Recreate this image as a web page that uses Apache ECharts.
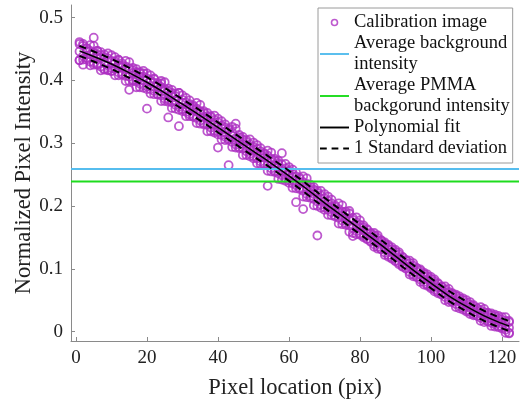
<!DOCTYPE html>
<html><head><meta charset="utf-8">
<script src="https://cdn.jsdelivr.net/npm/echarts@6/dist/echarts.min.js"></script>
<style>html,body{margin:0;padding:0;background:#fff}#c{width:528px;height:405px}</style>
</head><body><div id="c"></div>
<script>
// Pixel locations 1..122, five samples of normalized intensity per pixel
const calibA = [0.458,0.439,0.451,0.430,0.444,0.425,0.440,0.418,0.435,0.420,0.430,0.432,0.410,0.422,0.385,0.416,0.398,0.411,0.392,0.355,
0.400,0.383,0.393,0.376,0.386,0.369,0.380,0.361,0.380,0.369,0.350,0.362,0.343,0.355,0.336,0.348,0.329,0.341,0.320,0.293,
0.328,0.310,0.265,0.317,0.331,0.309,0.291,0.302,0.283,0.294,0.276,0.287,0.268,0.232,0.275,0.256,0.268,0.284,0.260,0.241,
0.251,0.233,0.243,0.195,0.235,0.216,0.226,0.153,0.217,0.198,0.208,0.190,0.199,0.181,0.191,0.173,0.192,0.152,0.174,0.156,
0.166,0.148,0.157,0.139,0.149,0.131,0.140,0.122,0.131,0.113,0.123,0.104,0.114,0.095,0.105,0.087,0.097,0.079,0.088,0.071,
0.080,0.063,0.072,0.055,0.063,0.048,0.057,0.041,0.050,0.034,0.043,0.028,0.037,0.022,0.031,0.017,0.026,0.012,0.021,0.007,
0.017,-0.002];
const calibB = [0.432,0.455,0.436,0.447,0.428,0.441,0.422,0.437,0.424,0.431,0.418,0.413,0.424,0.407,0.419,0.401,0.413,0.395,0.406,0.403,
0.386,0.396,0.378,0.389,0.371,0.383,0.365,0.375,0.327,0.354,0.365,0.346,0.358,0.340,0.351,0.332,0.343,0.325,0.337,0.333,
0.313,0.325,0.321,0.302,0.298,0.294,0.306,0.287,0.298,0.279,0.291,0.271,0.283,0.280,0.260,0.272,0.252,0.249,0.244,0.256,
0.236,0.247,0.229,0.238,0.219,0.230,0.211,0.221,0.202,0.212,0.194,0.204,0.185,0.195,0.177,0.187,0.169,0.178,0.160,0.170,
0.152,0.162,0.143,0.153,0.135,0.145,0.126,0.136,0.117,0.127,0.109,0.118,0.100,0.109,0.091,0.101,0.083,0.092,0.075,0.084,
0.067,0.076,0.059,0.067,0.051,0.060,0.044,0.053,0.038,0.046,0.031,0.040,0.025,0.034,0.019,0.029,0.014,0.024,0.009,0.019,
0.003,0.015];
const calibC = [0.446,0.425,0.447,0.441,0.468,0.447,0.436,0.428,0.417,0.415,0.427,0.424,0.421,0.417,0.406,0.412,0.404,0.406,0.411,0.390,
0.398,0.402,0.390,0.395,0.383,0.341,0.376,0.368,0.358,0.364,0.357,0.355,0.354,0.350,0.347,0.342,0.338,0.334,0.330,0.318,
0.323,0.318,0.307,0.312,0.308,0.304,0.299,0.296,0.292,0.289,0.284,0.281,0.277,0.265,0.270,0.266,0.262,0.258,0.255,0.250,
0.246,0.206,0.238,0.224,0.229,0.225,0.220,0.207,0.211,0.207,0.203,0.199,0.194,0.190,0.186,0.181,0.178,0.165,0.169,0.165,
0.161,0.156,0.152,0.148,0.144,0.139,0.135,0.131,0.126,0.122,0.117,0.113,0.108,0.104,0.100,0.095,0.091,0.087,0.083,0.078,
0.074,0.070,0.066,0.062,0.058,0.055,0.051,0.048,0.044,0.041,0.038,0.035,0.032,0.029,0.026,0.023,0.021,0.019,0.016,0.013,
0.010,0.006];
const calibD = [0.461,0.433,0.451,0.424,0.455,0.426,0.445,0.417,0.443,0.415,0.437,0.408,0.427,0.399,0.429,0.399,0.418,0.389,0.415,0.386,
0.408,0.378,0.396,0.367,0.397,0.366,0.385,0.355,0.380,0.351,0.372,0.343,0.360,0.332,0.361,0.330,0.348,0.319,0.344,0.314,
0.335,0.305,0.323,0.294,0.323,0.292,0.310,0.281,0.306,0.276,0.297,0.267,0.284,0.256,0.285,0.254,0.272,0.242,0.267,0.237,
0.258,0.228,0.245,0.215,0.244,0.213,0.230,0.200,0.224,0.194,0.215,0.185,0.201,0.172,0.201,0.170,0.188,0.157,0.182,0.154,
0.169,0.147,0.156,0.135,0.153,0.131,0.142,0.119,0.134,0.112,0.126,0.103,0.113,0.091,0.109,0.087,0.099,0.075,0.091,0.069,
0.083,0.061,0.071,0.050,0.068,0.047,0.059,0.037,0.053,0.032,0.047,0.026,0.037,0.017,0.036,0.016,0.029,0.008,0.025,0.005,
0.023,-0.003];
const calibE = [0.432,0.458,0.433,0.456,0.425,0.447,0.416,0.441,0.416,0.440,0.408,0.433,0.409,0.431,0.399,0.420,0.389,0.413,0.388,0.411,
0.379,0.403,0.378,0.399,0.367,0.387,0.356,0.379,0.353,0.376,0.343,0.368,0.342,0.364,0.331,0.351,0.319,0.343,0.317,0.339,
0.306,0.330,0.305,0.326,0.293,0.313,0.281,0.305,0.279,0.301,0.268,0.292,0.266,0.288,0.255,0.275,0.243,0.266,0.240,0.262,
0.229,0.253,0.227,0.247,0.214,0.234,0.201,0.224,0.197,0.219,0.186,0.210,0.183,0.204,0.171,0.191,0.159,0.181,0.155,0.177,
0.150,0.163,0.144,0.157,0.132,0.145,0.122,0.138,0.116,0.130,0.107,0.119,0.101,0.113,0.088,0.101,0.079,0.094,0.073,0.087,
0.064,0.077,0.059,0.072,0.047,0.061,0.039,0.056,0.035,0.050,0.028,0.042,0.025,0.039,0.015,0.030,0.009,0.027,0.007,0.023,
-0.002,0.017];
const fitX = [1,5,10,15,20,25,30,35,40,45,50,55,60,65,70,75,80,85,90,95,100,105,110,115,120,122];
const fitY = [0.447,0.438,0.426,0.412,0.397,0.380,0.362,0.344,0.325,0.306,0.287,0.268,0.248,0.227,0.205,0.184,0.163,0.142,0.120,0.098,0.077,0.057,0.040,0.025,0.013,0.009];
const sdUpper = [0.455,0.446,0.434,0.420,0.405,0.388,0.370,0.352,0.333,0.314,0.295,0.276,0.256,0.235,0.213,0.192,0.171,0.150,0.128,0.106,0.085,0.065,0.048,0.033,0.021,0.017];
const sdLower = [0.439,0.430,0.418,0.404,0.389,0.372,0.354,0.336,0.317,0.298,0.279,0.260,0.240,0.219,0.197,0.176,0.155,0.134,0.112,0.090,0.069,0.049,0.032,0.017,0.005,0.001];
const bgIntensity = 0.259;
const pmmaIntensity = 0.239;
const xRange = [-1.4, 124.8];
const yRange = [-0.015, 0.52];
const xTicks = [0,20,40,60,80,100,120];
const yTicks = [0,0.1,0.2,0.3,0.4,0.5];
const legendNames = ['Calibration image','Average background\nintensity','Average PMMA\nbackgorund intensity','Polynomial fit','1 Standard deviation'];

const purple = '#AC30C2';
const blue = '#56BDEE';
const green = '#1EDC1E';
const scatterData = [];
[calibA, calibB, calibC, calibD, calibE].forEach(arr => arr.forEach((v, i) => scatterData.push([i + 1, v])));
const zip = (xs, ys) => xs.map((x, i) => [x, ys[i]]);
const font = '"Liberation Serif","Times New Roman",serif';
const solidIcon = 'path://M0,0h30v2h-30z';
const dashIcon = 'path://M0,0h7v2h-7z M12,0h7v2h-7z M24,0h6v2h-6z';

const chart = echarts.init(document.getElementById('c'), null, {renderer: 'canvas'});
chart.setOption({
  animation: false,
  backgroundColor: '#fff',
  textStyle: {fontFamily: font},
  grid: {left: 71, right: 9, top: 5, bottom: 63},
  legend: {
    orient: 'vertical', left: 318, top: 8,
    padding: [4, 3, 4, 2], itemGap: 0, itemWidth: 29, itemHeight: 6, symbolKeepAspect: true,
    backgroundColor: '#fff', borderColor: '#9a9a9a', borderWidth: 1,
    textStyle: {fontFamily: font, fontSize: 18.5, color: '#111', lineHeight: 21},
    data: [
      {name: legendNames[0], icon: 'circle', itemStyle: {color: 'transparent', borderColor: purple, borderWidth: 1.6}},
      {name: legendNames[1], icon: solidIcon, itemStyle: {color: blue, borderWidth: 0}, lineStyle: {width: 0}},
      {name: legendNames[2], icon: solidIcon, itemStyle: {color: green, borderWidth: 0}, lineStyle: {width: 0}},
      {name: legendNames[3], icon: solidIcon, itemStyle: {color: '#000', borderWidth: 0}, lineStyle: {width: 0}},
      {name: legendNames[4], icon: dashIcon, itemStyle: {color: '#000', borderWidth: 0}, lineStyle: {width: 0}}
    ]
  },
  xAxis: {
    type: 'value', min: xRange[0], max: xRange[1],
    name: 'Pixel location (pix)', nameLocation: 'middle', nameGap: 36,
    nameTextStyle: {fontFamily: font, fontSize: 22.5, color: '#222'},
    axisLine: {onZero: false, lineStyle: {color: '#8a8a8a', width: 1}},
    axisTick: {inside: true, length: 4, lineStyle: {color: '#8a8a8a'}, customValues: xTicks},
    axisLabel: {fontFamily: font, fontSize: 19, color: '#222', margin: 8, customValues: xTicks},
    splitLine: {show: false}
  },
  yAxis: {
    type: 'value', min: yRange[0], max: yRange[1],
    name: 'Normalized Pixel Intensity', nameLocation: 'middle', nameGap: 35, nameMoveOverlap: false,
    nameTextStyle: {fontFamily: font, fontSize: 22.5, color: '#222'},
    axisLine: {show: true, onZero: false, lineStyle: {color: '#8a8a8a', width: 1}},
    axisTick: {show: true, inside: true, length: 4, lineStyle: {color: '#8a8a8a'}, customValues: yTicks},
    axisLabel: {fontFamily: font, fontSize: 19, color: '#222', margin: 8, customValues: yTicks},
    splitLine: {show: false}
  },
  series: [
    {name: legendNames[0], type: 'scatter', data: scatterData, symbol: 'circle', symbolSize: 8,
     itemStyle: {color: 'transparent', borderColor: purple, borderWidth: 1.8}, z: 2},
    {name: legendNames[1], type: 'line', data: zip(xRange, [bgIntensity, bgIntensity]), symbol: 'none',
     lineStyle: {color: blue, width: 2}, itemStyle: {color: blue}, z: 3},
    {name: legendNames[2], type: 'line', data: zip(xRange, [pmmaIntensity, pmmaIntensity]), symbol: 'none',
     lineStyle: {color: green, width: 2}, itemStyle: {color: green}, z: 3},
    {name: legendNames[3], type: 'line', data: zip(fitX, fitY), symbol: 'none', smooth: 0.4,
     lineStyle: {color: '#000', width: 1.5}, itemStyle: {color: '#000'}, z: 5},
    {name: legendNames[4], type: 'line', data: zip(fitX, sdUpper), symbol: 'none', smooth: 0.4,
     lineStyle: {color: '#000', width: 2, type: [7, 5]}, itemStyle: {color: '#000'}, z: 4},
    {name: legendNames[4], type: 'line', data: zip(fitX, sdLower), symbol: 'none', smooth: 0.4,
     lineStyle: {color: '#000', width: 2, type: [7, 5]}, itemStyle: {color: '#000'}, z: 4}
  ]
});
</script></body></html>
